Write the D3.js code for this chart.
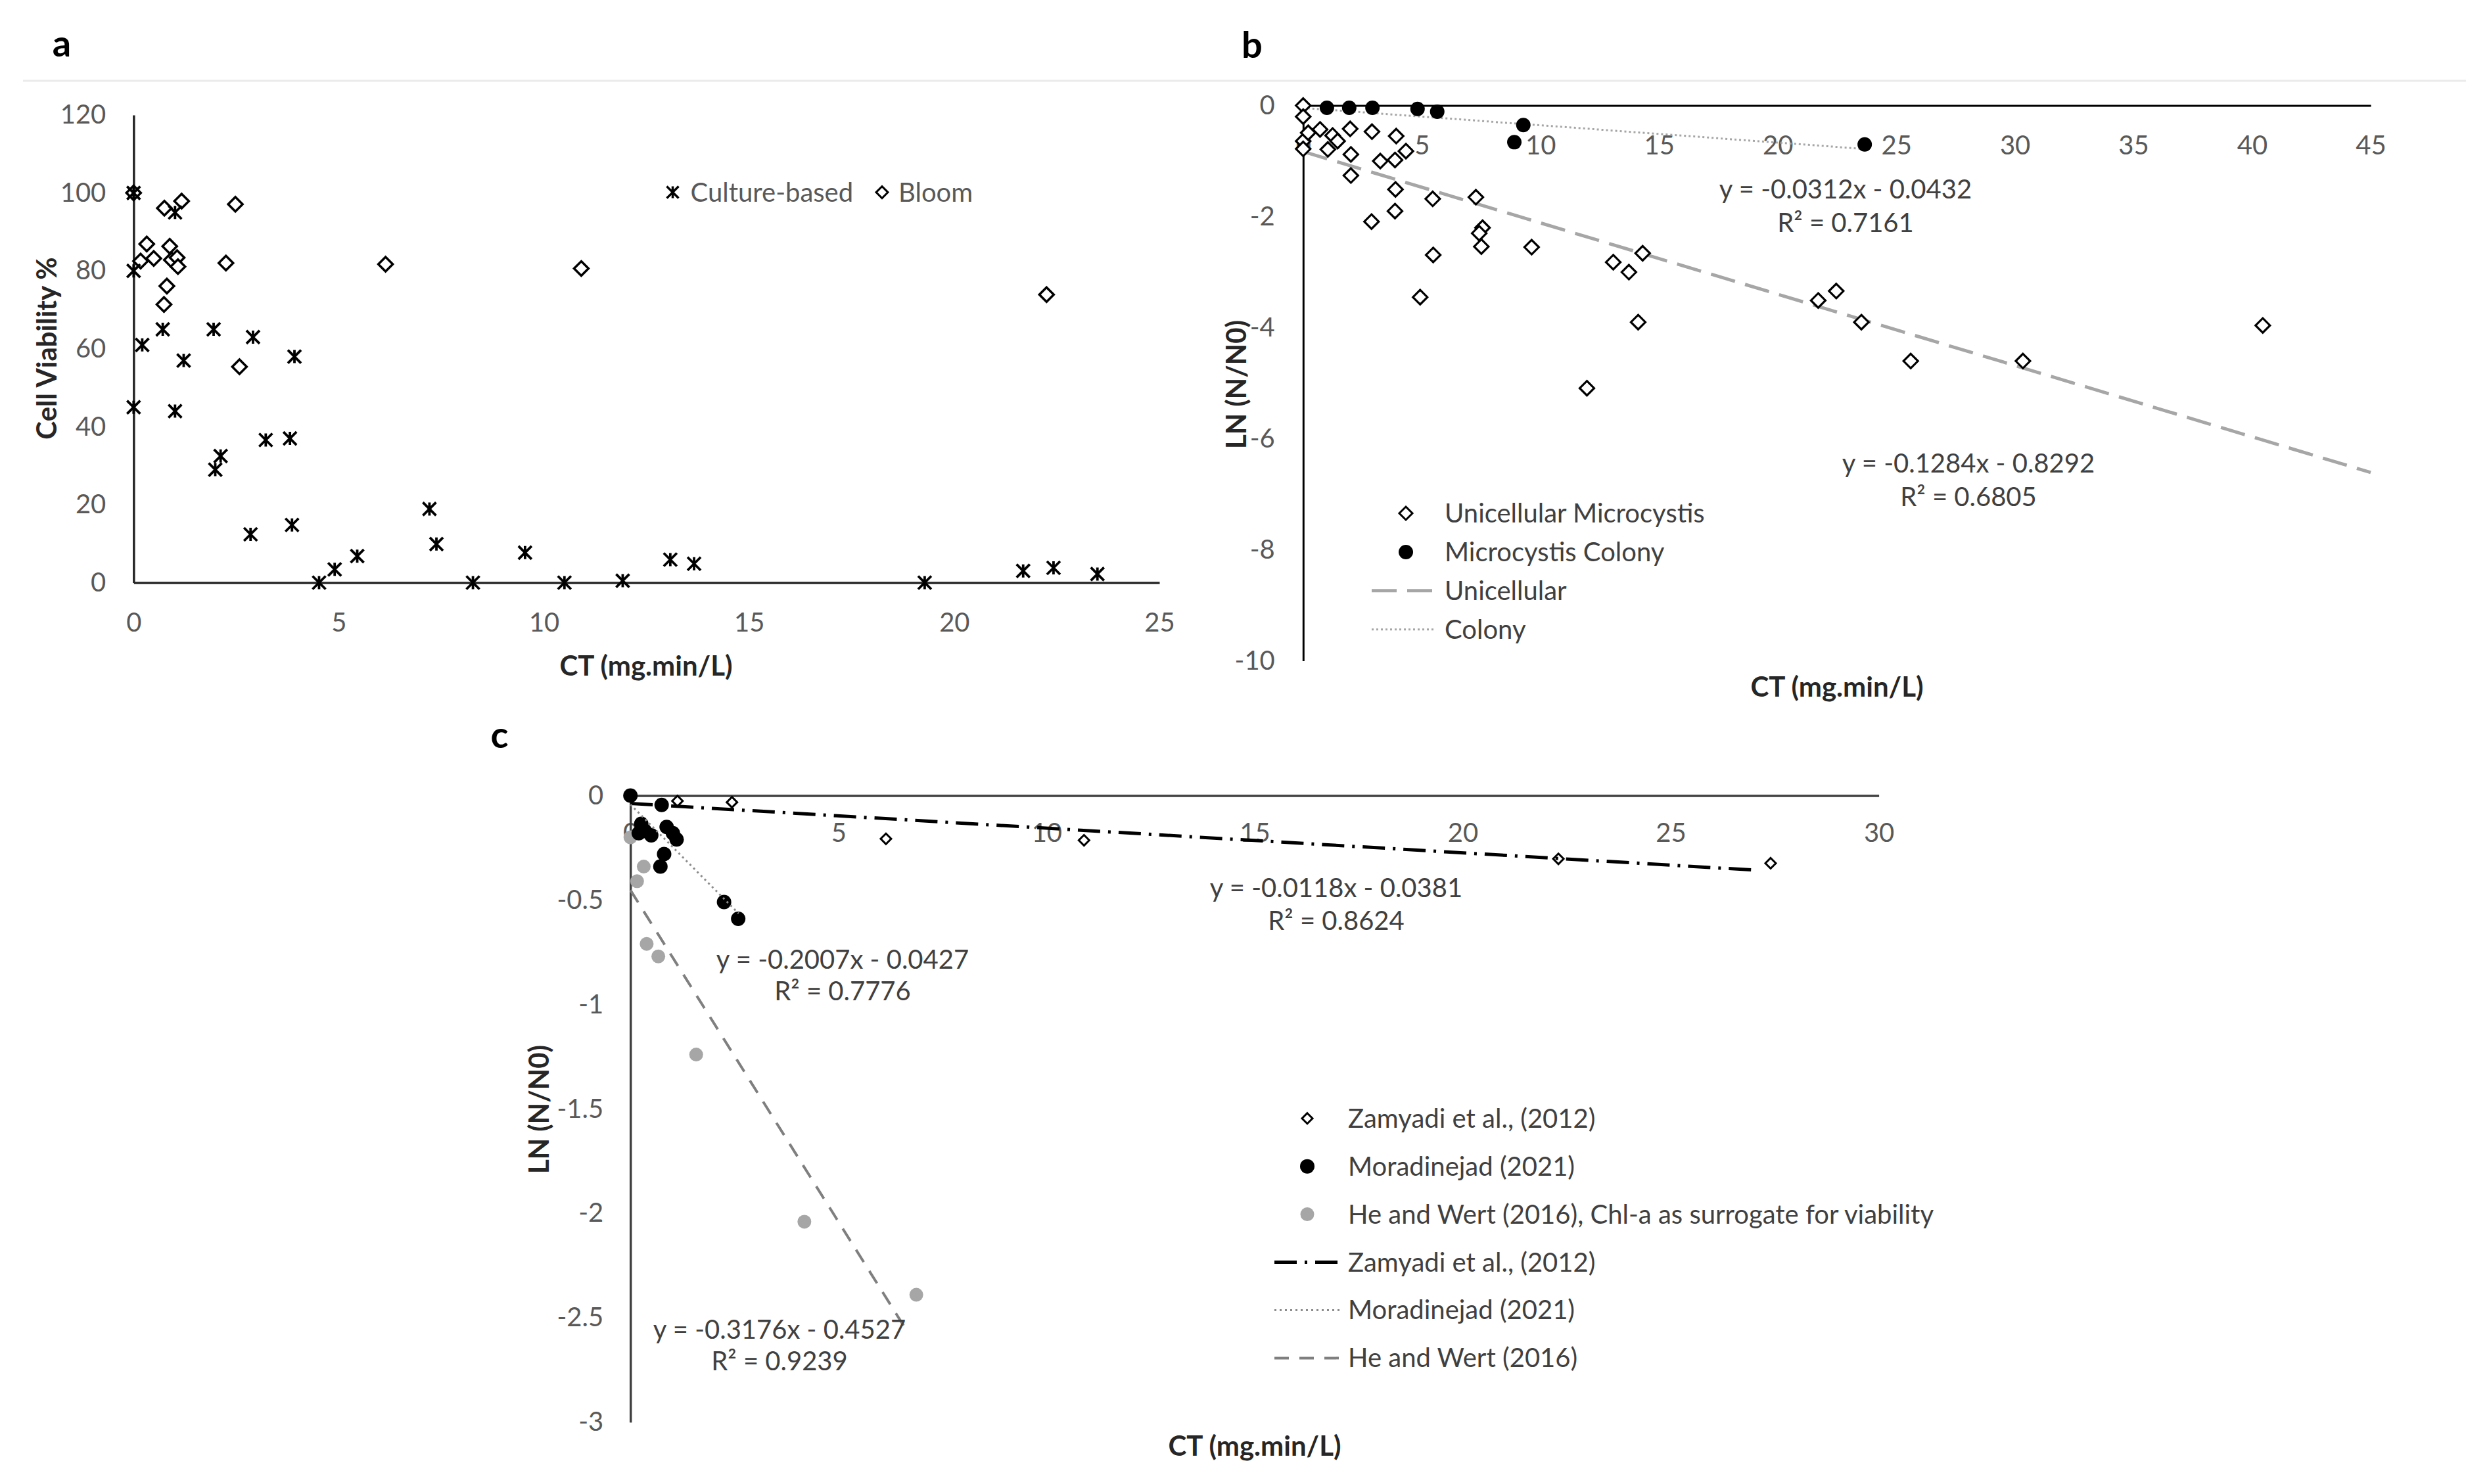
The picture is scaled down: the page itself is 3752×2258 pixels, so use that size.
<!DOCTYPE html>
<html><head><meta charset="utf-8">
<script src="https://cdn.jsdelivr.net/npm/d3@7"></script>
<style>body{margin:0;background:#fff}svg{display:block}</style>
</head><body>
<svg id="chart" width="3752" height="2258"></svg>
<script>
// ---------------- DATA ----------------
// Panel a: Cell viability (%) vs CT
const aXTicks = [0, 5, 10, 15, 20, 25];
const aYTicks = [0, 20, 40, 60, 80, 100, 120];
const aCulture = [[0,100],[0,80],[0,45],[0.21,61],[0.71,65],[1.01,95],[1.01,44],[1.22,57],[1.95,65],[1.99,29],[2.12,32.5],[2.91,63],[2.85,12.4],[3.22,36.6],[3.81,37],[3.92,58],[3.86,14.8],[4.52,0],[4.9,3.4],[5.45,6.8],[7.21,18.9],[7.38,9.9],[8.27,0],[9.54,7.7],[10.5,0],[11.92,0.5],[13.08,5.9],[13.66,4.85],[19.28,0],[21.68,3.0],[22.42,3.8],[23.49,2.2]];
const aBloom = [[0,100],[0.17,82.5],[0.32,86.9],[0.49,83.2],[0.75,96.1],[0.74,71.4],[0.81,76.1],[0.88,86.3],[0.92,82.8],[1.06,83.4],[1.08,81.1],[1.17,97.9],[2.25,82],[2.48,97.1],[2.58,55.4],[6.14,81.7],[10.91,80.6],[22.25,73.9]];
const aLegend = ["Culture-based", "Bloom"];

// Panel b: LN(N/N0) vs CT
const bXTicks = [0, 5, 10, 15, 20, 25, 30, 35, 40, 45];
const bYTicks = [0, -2, -4, -6, -8, -10];
const bUnicellular = [[0,0],[0,-0.2],[0,-0.64],[0,-0.78],[0.21,-0.49],[0.71,-0.43],[1.04,-0.79],[1.24,-0.54],[1.45,-0.64],[1.98,-0.42],[2.01,-0.88],[2.01,-1.26],[2.9,-0.47],[2.88,-2.09],[3.25,-1.0],[3.87,-0.98],[3.92,-0.55],[3.89,-1.51],[3.87,-1.9],[4.33,-0.82],[4.93,-3.45],[5.46,-1.68],[5.48,-2.69],[7.28,-1.65],[7.56,-2.2],[7.42,-2.3],[7.51,-2.54],[9.63,-2.55],[11.96,-5.09],[13.07,-2.82],[13.73,-3.0],[14.31,-2.66],[14.12,-3.9],[21.71,-3.51],[22.47,-3.34],[23.53,-3.9],[25.61,-4.6],[30.34,-4.6],[40.45,-3.96]];
const bColony = [[1.0,-0.04],[1.94,-0.04],[2.92,-0.04],[4.82,-0.06],[5.65,-0.11],[9.28,-0.35],[8.9,-0.66],[23.67,-0.7]];
// fits: [slope, intercept, xStart, xEnd]
const bFitUnicellular = [-0.1284, -0.8292, 0, 45];
const bFitColony = [-0.0312, -0.0432, 0, 23.7];
const bEquations = ["y = -0.0312x - 0.0432", "R² = 0.7161", "y = -0.1284x - 0.8292", "R² = 0.6805"];
const bLegend = ["Unicellular Microcystis", "Microcystis Colony", "Unicellular", "Colony"];

// Panel c: LN(N/N0) vs CT, literature comparison
const cXTicks = [0, 5, 10, 15, 20, 25, 30];
const cYTicks = [0, -0.5, -1, -1.5, -2, -2.5, -3];
const cZamyadi = [[1.13,-0.026],[2.44,-0.032],[6.14,-0.207],[10.9,-0.214],[22.3,-0.303],[27.4,-0.324]];
const cMoradinejad = [[0,0],[0.75,-0.045],[0.26,-0.135],[0.35,-0.17],[0.2,-0.18],[0.5,-0.19],[0.87,-0.15],[1.02,-0.18],[1.11,-0.21],[0.81,-0.28],[0.72,-0.34],[2.25,-0.51],[2.59,-0.59]];
const cHeWert = [[0,-0.2],[0.32,-0.34],[0.16,-0.41],[0.39,-0.71],[0.67,-0.77],[1.58,-1.24],[4.18,-2.04],[6.87,-2.39]];
const cFitZamyadi = [-0.0118, -0.0381, 0, 27.1];
const cFitMoradinejad = [-0.2007, -0.0427, 0, 2.6];
const cFitHeWert = [-0.3176, -0.4527, 0, 6.65];
const cEquations = ["y = -0.0118x - 0.0381", "R² = 0.8624", "y = -0.2007x - 0.0427", "R² = 0.7776", "y = -0.3176x - 0.4527", "R² = 0.9239"];
const cLegend = ["Zamyadi et al., (2012)", "Moradinejad (2021)", "He and Wert (2016), Chl-a as surrogate for viability", "Zamyadi et al., (2012)", "Moradinejad (2021)", "He and Wert (2016)"];

const xTitle = "CT (mg.min/L)";

// ---------------- DRAWING ----------------
const FONT = "Lato, 'Open Sans', 'Liberation Sans', sans-serif";
const svg = d3.select('#chart');
svg.append('rect').attr('width', 3752).attr('height', 2258).attr('fill', '#fff');
svg.append('line').attr('x1', 35).attr('x2', 3752).attr('y1', 123).attr('y2', 123)
  .attr('stroke', '#ebebeb').attr('stroke-width', 3);

const diamond = s => `M0,${-s}L${s},0L0,${s}L${-s},0Z`;
const star = s => `M${-s},${-s}L${s},${s}M${s},${-s}L${-s},${s}M0,${-s}L0,${s}`;
const fmt = d => String(d);

function axes(x, y, xTicks, yTicks, xPad, yPad, color, width) {
  const gx = svg.append('g').attr('transform', `translate(0,${y(0)})`)
    .call(d3.axisBottom(x).tickValues(xTicks).tickSize(0).tickSizeOuter(0).tickPadding(xPad).tickFormat(fmt));
  const gy = svg.append('g').attr('transform', `translate(${x(0)},0)`)
    .call(d3.axisLeft(y).tickValues(yTicks).tickSize(0).tickSizeOuter(0).tickPadding(yPad).tickFormat(fmt));
  [gx, gy].forEach(g => {
    g.select('.domain').attr('stroke', color).attr('stroke-width', width);
    g.selectAll('text').attr('font-family', FONT).attr('font-size', 40).attr('fill', '#595959');
  });
  return [gx, gy];
}

function text(str, x, y, opts = {}) {
  const t = svg.append('text').attr('x', x).attr('y', y).attr('dy', '0.35em')
    .attr('font-family', FONT).attr('font-size', opts.size || 40)
    .attr('font-weight', opts.weight || 'normal')
    .attr('fill', opts.fill || '#404040')
    .attr('text-anchor', opts.anchor || 'middle').text(str);
  if (opts.rotate) t.attr('transform', `rotate(-90,${x},${y})`);
  return t;
}

function fitLine(x, y, fit, style) {
  const pts = [fit[2], fit[3]].map(v => [v, fit[0] * v + fit[1]]);
  svg.append('path').attr('d', d3.line().x(d => x(d[0])).y(d => y(d[1]))(pts))
    .attr('fill', 'none').attr('stroke', style.color).attr('stroke-width', style.width)
    .attr('stroke-dasharray', style.dash || null).attr('stroke-linecap', style.cap || 'butt');
}

function points(data, x, y, kind, opts) {
  const g = svg.append('g');
  if (kind === 'circle') {
    g.selectAll('circle').data(data).join('circle')
      .attr('cx', d => x(d[0])).attr('cy', d => y(d[1])).attr('r', opts.r)
      .attr('fill', opts.fill).attr('stroke', opts.stroke || 'none').attr('stroke-width', opts.sw || 0);
  } else {
    g.selectAll('path').data(data).join('path')
      .attr('transform', d => `translate(${x(d[0])},${y(d[1])})`)
      .attr('d', kind === 'diamond' ? diamond(opts.s) : star(opts.s))
      .attr('fill', opts.fill).attr('stroke', opts.stroke).attr('stroke-width', opts.sw);
  }
}

// ---------- Panel a ----------
{
  const x = d3.scaleLinear().domain([0, 25]).range([203.3, 1764]);
  const y = d3.scaleLinear().domain([0, 120]).range([886.5, 175]);
  axes(x, y, aXTicks, aYTicks, 46, 42, '#262626', 3.5);
  points(aBloom, x, y, 'diamond', {s: 11, fill: '#fff', stroke: '#000', sw: 3.5});
  points(aCulture, x, y, 'star', {s: 10, fill: 'none', stroke: '#000', sw: 3.8});
  // legend
  svg.append('path').attr('transform', 'translate(1023.5,292.6)').attr('d', star(9))
    .attr('stroke', '#000').attr('stroke-width', 3.5).attr('fill', 'none');
  text(aLegend[0], 1050.5, 292.6, {anchor: 'start', fill: '#595959'});
  svg.append('path').attr('transform', 'translate(1342,292.6)').attr('d', diamond(9))
    .attr('stroke', '#000').attr('stroke-width', 3).attr('fill', '#fff');
  text(aLegend[1], 1367, 292.6, {anchor: 'start', fill: '#595959'});
  text(xTitle, 983, 1013, {weight: 'bold', fill: '#262626', size: 42});
  text('Cell Viability %', 71, 530, {weight: 'bold', fill: '#262626', size: 42, rotate: true});
  text('a', 94, 66, {weight: 'bold', fill: '#000', size: 56});
}

// ---------- Panel b ----------
{
  const x = d3.scaleLinear().domain([0, 45]).range([1982.8, 3607]);
  const y = d3.scaleLinear().domain([-10, 0]).range([1005.6, 160.6]);
  axes(x, y, bXTicks, bYTicks, 46, 43, '#000', 3);
  fitLine(x, y, bFitUnicellular, {color: '#a6a6a6', width: 5, dash: '38,16'});
  fitLine(x, y, bFitColony, {color: '#a6a6a6', width: 3, dash: '3,4'});
  points(bUnicellular, x, y, 'diamond', {s: 11, fill: '#fff', stroke: '#000', sw: 3.2});
  points(bColony, x, y, 'circle', {r: 11, fill: '#000'});
  text(bEquations[0], 2808, 288, {});
  text(bEquations[1], 2808, 339, {});
  text(bEquations[2], 2995, 705, {});
  text(bEquations[3], 2995, 756, {});
  // legend
  const ly = d3.scalePoint().domain(bLegend).range([781, 957.8]);
  svg.append('path').attr('transform', `translate(2139,${ly(bLegend[0])})`).attr('d', diamond(10))
    .attr('fill', '#fff').attr('stroke', '#000').attr('stroke-width', 3);
  svg.append('circle').attr('cx', 2139).attr('cy', ly(bLegend[1])).attr('r', 11).attr('fill', '#000');
  svg.append('line').attr('x1', 2087).attr('x2', 2182).attr('y1', ly(bLegend[2])).attr('y2', ly(bLegend[2]))
    .attr('stroke', '#a6a6a6').attr('stroke-width', 5).attr('stroke-dasharray', '38,16');
  svg.append('line').attr('x1', 2087).attr('x2', 2182).attr('y1', ly(bLegend[3])).attr('y2', ly(bLegend[3]))
    .attr('stroke', '#a6a6a6').attr('stroke-width', 3).attr('stroke-dasharray', '3,4');
  bLegend.forEach(s => text(s, 2198, ly(s), {anchor: 'start', fill: '#404040'}));
  text(xTitle, 2795, 1045, {weight: 'bold', fill: '#262626', size: 42});
  text('LN (N/N0)', 1881, 585, {weight: 'bold', fill: '#262626', size: 42, rotate: true});
  text('b', 1905, 68, {weight: 'bold', fill: '#000', size: 56});
}

// ---------- Panel c ----------
{
  const x = d3.scaleLinear().domain([0, 30]).range([959.2, 2858.6]);
  const y = d3.scaleLinear().domain([-3, 0]).range([2164, 1210.5]);
  axes(x, y, cXTicks, cYTicks, 42, 41, '#404040', 3.5);
  points(cHeWert, x, y, 'circle', {r: 10.5, fill: '#a6a6a6'});
  points(cMoradinejad, x, y, 'circle', {r: 11, fill: '#000'});
  points(cZamyadi, x, y, 'diamond', {s: 8, fill: '#fff', stroke: '#000', sw: 3});
  fitLine(x, y, cFitZamyadi, {color: '#000', width: 5, dash: '34,12,4,12'});
  fitLine(x, y, cFitMoradinejad, {color: '#8c8c8c', width: 3, dash: '3,5'});
  fitLine(x, y, cFitHeWert, {color: '#7f7f7f', width: 4, dash: '22,16'});
  text(cEquations[0], 2033, 1351, {});
  text(cEquations[1], 2033, 1401, {});
  text(cEquations[2], 1282, 1460, {});
  text(cEquations[3], 1282, 1508, {});
  text(cEquations[4], 1186, 2023, {});
  text(cEquations[5], 1186, 2071, {});
  // legend
  const ly = d3.scaleLinear().domain([0, cLegend.length - 1]).range([1701.7, 2066.4]);
  svg.append('path').attr('transform', `translate(1989,${ly(0)})`).attr('d', diamond(8))
    .attr('fill', '#fff').attr('stroke', '#000').attr('stroke-width', 3);
  svg.append('circle').attr('cx', 1989).attr('cy', ly(1)).attr('r', 11).attr('fill', '#000');
  svg.append('circle').attr('cx', 1989).attr('cy', ly(2)).attr('r', 10.5).attr('fill', '#a6a6a6');
  svg.append('line').attr('x1', 1939).attr('x2', 2041).attr('y1', ly(3)).attr('y2', ly(3))
    .attr('stroke', '#000').attr('stroke-width', 5).attr('stroke-dasharray', '34,12,4,12');
  svg.append('line').attr('x1', 1939).attr('x2', 2041).attr('y1', ly(4)).attr('y2', ly(4))
    .attr('stroke', '#8c8c8c').attr('stroke-width', 3).attr('stroke-dasharray', '3,5');
  svg.append('line').attr('x1', 1939).attr('x2', 2041).attr('y1', ly(5)).attr('y2', ly(5))
    .attr('stroke', '#7f7f7f').attr('stroke-width', 4).attr('stroke-dasharray', '22,16');
  cLegend.forEach((s, i) => text(s, 2051, ly(i), {anchor: 'start', fill: '#404040'}));
  text(xTitle, 1909, 2200, {weight: 'bold', fill: '#262626', size: 42});
  text('LN (N/N0)', 820, 1688, {weight: 'bold', fill: '#262626', size: 42, rotate: true});
  text('c', 760, 1118, {weight: 'bold', fill: '#000', size: 56});
}
</script>
</body></html>
